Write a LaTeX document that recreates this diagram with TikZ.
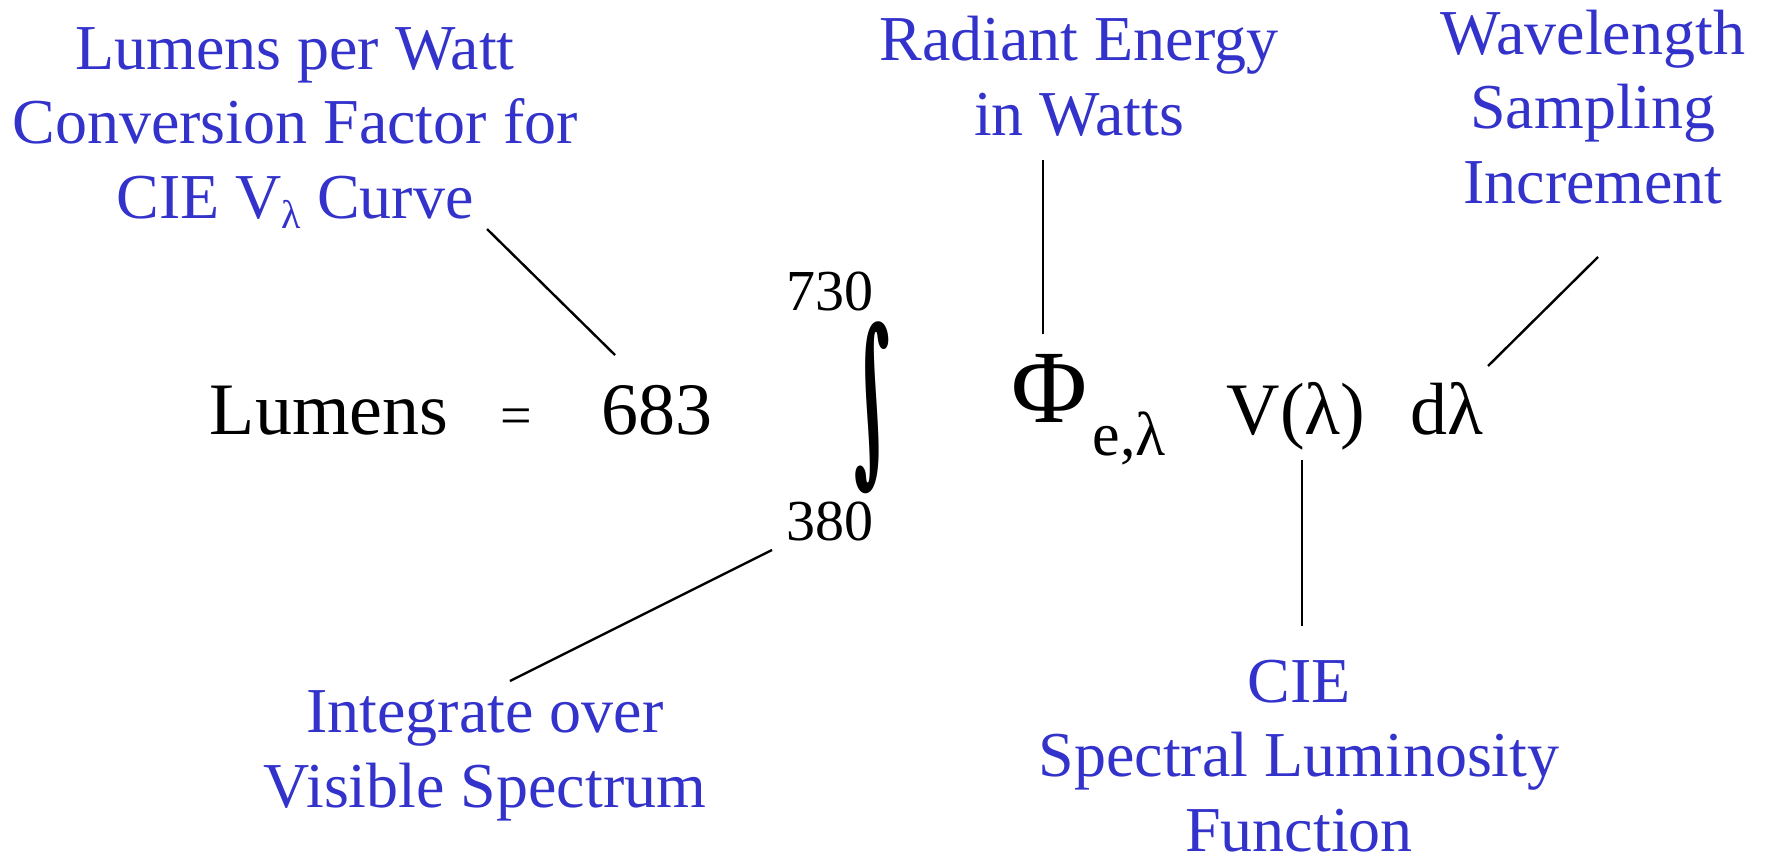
\documentclass[tikz,border=0pt]{standalone}
\usepackage{fontspec}
\setmainfont{Liberation Serif}
\newfontfamily\intfont{DejaVu Serif}
\usepackage{tikz}
\usetikzlibrary{positioning}
\definecolor{noteblue}{RGB}{51,51,204}

\begin{document}
\begin{tikzpicture}[x=0.25pt, y=-0.25pt,
  note/.style={text=noteblue, align=center, inner sep=0pt, anchor=base, font=\fontsize{16}{18.6}\selectfont},
  term/.style={inner sep=0pt, anchor=base west, font=\fontsize{18.5}{22}\selectfont},
  limit/.style={inner sep=0pt, anchor=base west, font=\fontsize{14.5}{17}\selectfont},
  lead/.style={line width=0.6pt}]
  \useasboundingbox (0,0) rectangle (1768,859);
  \node[term] (lum) at (209,434) {Lumens};
  \node[term, anchor=base, font=\fontsize{14}{17}\selectfont] (eq) at (516,434) {=};
  \node[term] (k) at (601,434) {683};
  \node[limit] (up) at (786,310) {730};
  \node[limit] (lo) at (786,540) {380};
  \node[inner sep=0pt, xslant=-0.08, transform shape] (int) at (872,408) {\resizebox*{12pt}{43pt}{\intfont\bfseries ∫}};
  \node[term, font=\fontsize{26}{30}\selectfont] (phi) at (1011,422) {Φ};
  \node[limit, font=\fontsize{15.5}{18}\selectfont] (sub) at (1092,455) {e,λ};
  \node[term] (v) at (1226,434) {V(λ)};
  \node[term] (dl) at (1410,434) {dλ};

  \node[note] (lpw) at (295,218) {Lumens per Watt\\Conversion Factor for\\CIE V\raisebox{-0.35ex}{\fontsize{10}{10}\selectfont λ} Curve};
  \node[note] (rad) at (1079,135) {Radiant Energy\\in Watts};
  \node[note] (wav) at (1593,203) {Wavelength\\Sampling\\Increment};
  \node[note] (intg) at (485,807) {Integrate over\\Visible Spectrum};
  \node[note] (spec) at (1299,851) {CIE\\Spectral Luminosity\\Function};

  \coordinate (lpw-a) at (487,229);
  \coordinate (lpw-b) at (615,355);
  \coordinate (rad-a) at (1043,160);
  \coordinate (rad-b) at (1043,334);
  \coordinate (wav-a) at (1598,257);
  \coordinate (wav-b) at (1488,366);
  \coordinate (intg-a) at (510,681);
  \coordinate (intg-b) at (772,550);
  \coordinate (spec-a) at (1302,626);
  \coordinate (spec-b) at (1302,460);
  \draw[lead] (lpw-a) -- (lpw-b);
  \draw[lead] (rad-a) -- (rad-b);
  \draw[lead] (wav-a) -- (wav-b);
  \draw[lead] (intg-a) -- (intg-b);
  \draw[lead] (spec-a) -- (spec-b);
\end{tikzpicture}
\end{document}
